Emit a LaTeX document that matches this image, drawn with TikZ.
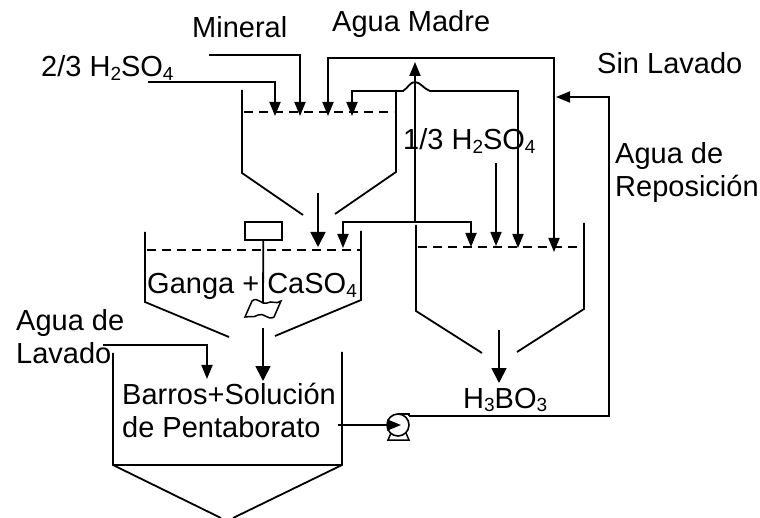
\documentclass[tikz,border=0pt]{standalone}
\usepackage{fontspec}
\setmainfont{Liberation Sans}
\usetikzlibrary{arrows.meta}
\newcommand{\sbs}[1]{\raisebox{-3.5pt}{\fontsize{19}{19}\selectfont #1}}
\tikzset{
  ln/.style={line width=1.8pt,black},
  thin ln/.style={line width=1.5pt,black},
  flow/.style={ln,-{Triangle[length=14pt,width=11pt]}},
  twoflow/.style={ln,{Triangle[length=14pt,width=11pt]}-{Triangle[length=14pt,width=11pt]}},
  bigflow/.style={ln,-{Triangle[length=15pt,width=15pt]}},
  lvl/.style={line width=1.5pt,dash pattern=on 9pt off 6pt},
  lab/.style={font=\fontsize{29}{33}\selectfont,inner sep=0pt,align=left,anchor=base west},
}
\begin{document}
\begin{tikzpicture}[x=1pt,y=-1pt]
\useasboundingbox (0,0) rectangle (760,518);
% coordinates
\coordinate (minS) at (209,55); \coordinate (minC) at (300,55); \coordinate (minE) at (300,116);
\coordinate (h2S) at (148,82); \coordinate (h2C) at (275,82); \coordinate (h2E) at (275,116);
\coordinate (amE) at (328,116); \coordinate (amC1) at (328,58); \coordinate (amC2) at (554,58); \coordinate (amF) at (554,252);
\coordinate (rE) at (352,116); \coordinate (rC1) at (352,91); \coordinate (rB1) at (403,91); \coordinate (rB2) at (430,91); \coordinate (rC2) at (518,91); \coordinate (rF) at (518,248);
\coordinate (upS) at (415,222); \coordinate (upE) at (415,62);
\coordinate (t2E) at (343,248); \coordinate (t2C1) at (343,222); \coordinate (t2C2) at (471,222); \coordinate (t2F) at (471,247);
\coordinate (th3S) at (496,163); \coordinate (th3E) at (496,246);
\coordinate (slE) at (556,97); \coordinate (slC) at (609,97); \coordinate (slD) at (609,416); \coordinate (slP) at (409,416);
\coordinate (c1S) at (318,193); \coordinate (c1E) at (318,247);
\coordinate (c2S) at (263,328); \coordinate (c2E) at (263,381);
\coordinate (c3S) at (499,330); \coordinate (c3E) at (499,383);
\coordinate (alS) at (103,345); \coordinate (alC) at (207,345); \coordinate (alE) at (207,379);
\coordinate (pS) at (338,425); \coordinate (pE) at (401,425);
% tanks
\draw[ln] (242,90) -- (242,173) -- (303,215);
\draw[ln] (396,90) -- (396,172) -- (335,214);
\draw[lvl] (244,112) -- (394,112);
\draw[ln] (145,232) -- (145,302) -- (229,337);
\draw[ln] (361,231) -- (361,300) -- (275,336);
\draw[lvl] (147,250) -- (361,250);
\draw[ln] (416,225) -- (416,311) -- (482,353);
\draw[ln] (584,223) -- (584,309) -- (517,352);
\draw[lvl] (418,247) -- (581,247);
\draw[ln] (113,353) -- (113,465) -- (221,518);
\draw[ln] (342,352) -- (342,465) -- (233,518);
\draw[ln] (113,465) -- (342,465);
% stirrer
\node[draw,line width=1.6pt,minimum width=37pt,minimum height=18pt,inner sep=0pt,anchor=north west] (st) at (244,221) {};
\draw[ln] (st.south) -- (263,303);
\draw[thin ln] (252,301) .. controls (258,296) and (262,306) .. (267,303) .. controls (272,300) and (276,305) .. (281,301)
  -- (274,317) .. controls (268,321) and (264,312) .. (258,315) .. controls (254,318) and (250,316) .. (245,317) -- cycle;
% connectors
\draw[flow] (minS) -- (minC) -- (minE);
\draw[flow] (h2S) -- (h2C) -- (h2E);
\draw[twoflow] (amE) -- (amC1) -- (amC2) -- (amF);
\draw[twoflow] (rE) -- (rC1) -- (rB1) .. controls (408,88) and (410,82) .. (415,82) .. controls (420,82) and (424,89) .. (rB2) -- (rC2) -- (rF);
\draw[flow] (upS) -- (upE);
\draw[twoflow] (t2E) -- (t2C1) -- (t2C2) -- (t2F);
\draw[flow] (th3S) -- (th3E);
% pump
\node[draw,circle,line width=1.6pt,minimum size=22pt,inner sep=0pt] (pump) at (398,425) {};
\draw[thin ln] (391,433) -- (388,440) -- (409,440) -- (406,433);
\draw[thin ln] (398,414) -- (409,414) -- (409,416);
\draw[flow] (slP) -- (slD) -- (slC) -- (slE);
\draw[bigflow] (c1S) -- (c1E);
\draw[bigflow] (c2S) -- (c2E);
\draw[bigflow] (c3S) -- (c3E);
\draw[flow] (alS) -- (alC) -- (alE);
\draw[flow] (pS) -- (pE);
% labels
\node[lab] (lMin) at (192,38) {Mineral};
\node[lab] (lAM) at (332,32) {Agua Madre};
\node[lab] (l23) at (41,77) {2/3 H\sbs{2}SO\sbs{4}};
\node[lab] (lSL) at (597,74) {Sin Lavado};
\node[lab] (l13) at (403,150) {1/3 H\sbs{2}SO\sbs{4}};
\node[lab] (lAR) at (615,197) {Agua de\\Reposición};
\node[lab] (lGa) at (147,294) {Ganga + CaSO\sbs{4}};
\node[lab] (lAL) at (16,363) {Agua de\\Lavado};
\node[lab] (lBa) at (122,437) {Barros+Solución\\de Pentaborato};
\node[lab] (lH3) at (463,408) {H\sbs{3}BO\sbs{3}};
\end{tikzpicture}
\end{document}
